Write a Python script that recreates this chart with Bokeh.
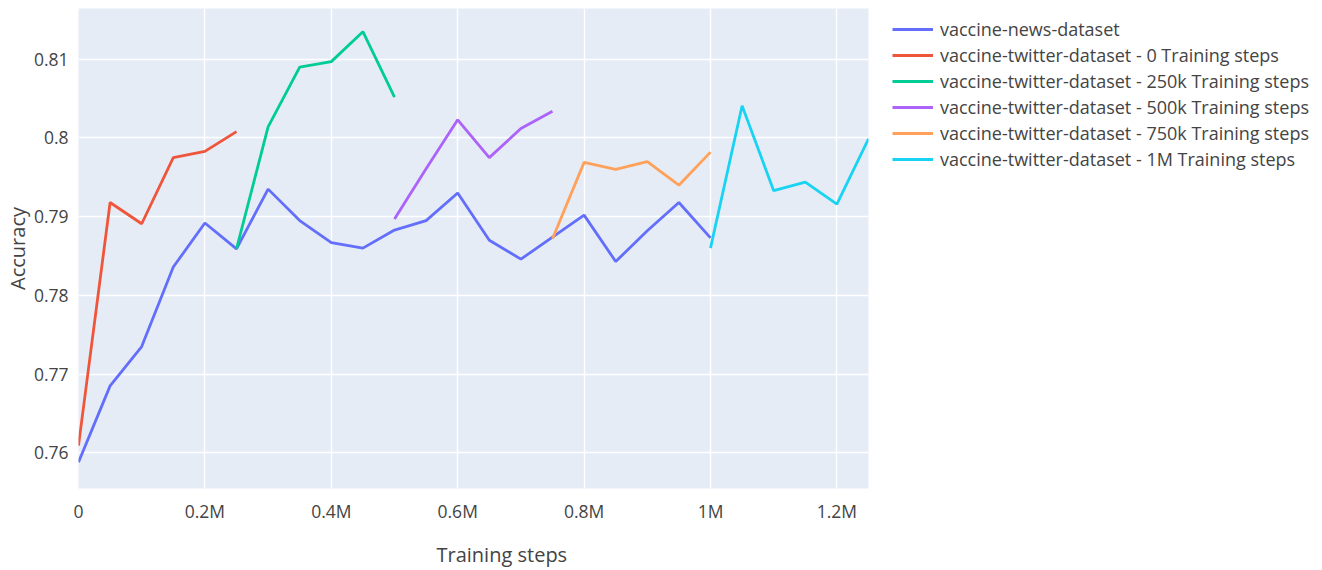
from bokeh.plotting import figure
from bokeh.models import Legend, LegendItem, FixedTicker, Range1d, Title
from bokeh.embed import file_html
from bokeh.resources import INLINE

# ---- data ----
news_steps = [0, 50000, 100000, 150000, 200000, 250000, 300000, 350000, 400000, 450000,
              500000, 550000, 600000, 650000, 700000, 750000, 800000, 850000, 900000, 950000, 1000000]
news_acc = [0.7588, 0.7685, 0.7735, 0.7836, 0.7892, 0.7859, 0.7935, 0.7895, 0.7867, 0.7860,
            0.7883, 0.7895, 0.7930, 0.7870, 0.7846, 0.7874, 0.7902, 0.7843, 0.7882, 0.7918, 0.7873]

tw0_steps = [0, 50000, 100000, 150000, 200000, 250000]
tw0_acc = [0.7609, 0.7918, 0.7891, 0.7975, 0.7983, 0.8008]

tw250_steps = [250000, 300000, 350000, 400000, 450000, 500000]
tw250_acc = [0.7859, 0.8014, 0.8090, 0.8097, 0.8135, 0.8052]

tw500_steps = [500000, 550000, 600000, 650000, 700000, 750000]
tw500_acc = [0.7897, 0.7961, 0.8023, 0.7975, 0.8012, 0.8034]

tw750_steps = [750000, 800000, 850000, 900000, 950000, 1000000]
tw750_acc = [0.7872, 0.7969, 0.7960, 0.7970, 0.7940, 0.7982]

tw1m_steps = [1000000, 1050000, 1100000, 1150000, 1200000, 1250000]
tw1m_acc = [0.7860, 0.8041, 0.7933, 0.7944, 0.7916, 0.7999]

series_names = ["vaccine-news-dataset",
                "vaccine-twitter-dataset - 0 Training steps",
                "vaccine-twitter-dataset - 250k Training steps",
                "vaccine-twitter-dataset - 500k Training steps",
                "vaccine-twitter-dataset - 750k Training steps",
                "vaccine-twitter-dataset - 1M Training steps"]
colors = ["#636efa", "#EF553B", "#00cc96", "#ab63fa", "#FFA15A", "#19d3f3"]

x_ticks = [0, 200000, 400000, 600000, 800000, 1000000, 1200000]
x_tick_labels = ["0", "0.2M", "0.4M", "0.6M", "0.8M", "1M", "1.2M"]
y_ticks = [0.76, 0.77, 0.78, 0.79, 0.80, 0.81]
y_tick_labels = ["0.76", "0.77", "0.78", "0.79", "0.8", "0.81"]

FONT = "Open Sans"
TXT = "#444444"

p = figure(frame_width=790, frame_height=480, output_backend="svg", toolbar_location=None,
           x_range=Range1d(0, 1250000), y_range=Range1d(0.75546, 0.81645),
           min_border_left=78, min_border_right=0, min_border_top=8, min_border_bottom=0)
p.background_fill_color = "#E5ECF6"
p.border_fill_color = "white"
p.outline_line_color = None

series = [(news_steps, news_acc), (tw0_steps, tw0_acc), (tw250_steps, tw250_acc),
          (tw500_steps, tw500_acc), (tw750_steps, tw750_acc), (tw1m_steps, tw1m_acc)]
items = []
for (xs, ys), name, c in zip(series, series_names, colors):
    r = p.line(xs, ys, line_color=c, line_width=2.8)
    items.append(LegendItem(label=name, renderers=[r]))

for ax in (p.xaxis, p.yaxis):
    ax.axis_line_color = None
    ax.major_tick_line_color = None
    ax.minor_tick_line_color = None
    ax.major_label_text_font = FONT
    ax.major_label_text_font_size = "17.5px"
    ax.major_label_text_color = TXT

p.xaxis.ticker = FixedTicker(ticks=x_ticks)
p.xaxis.major_label_overrides = {t: l for t, l in zip(x_ticks, x_tick_labels)}
p.xaxis.major_label_standoff = 4
p.yaxis.ticker = FixedTicker(ticks=y_ticks)
p.yaxis.major_label_overrides = {t: l for t, l in zip(y_ticks, y_tick_labels)}
p.yaxis.major_label_standoff = 4

p.yaxis.axis_label = "Accuracy"
p.yaxis.axis_label_text_font = FONT
p.yaxis.axis_label_text_font_size = "20px"
p.yaxis.axis_label_text_font_style = "normal"
p.yaxis.axis_label_text_color = TXT
p.yaxis.axis_label_standoff = 0

p.xgrid.grid_line_color = "white"
p.ygrid.grid_line_color = "white"
p.xgrid.grid_line_width = 1.5
p.ygrid.grid_line_width = 1.5

xtitle = Title(text="Training steps", align="left", offset=358, standoff=27,
               text_font=FONT, text_font_size="20px", text_font_style="normal",
               text_color=TXT)
p.add_layout(xtitle, "below")

legend = Legend(items=items, location=(24, 316), orientation="vertical",
                label_text_font=FONT, label_text_font_size="18px", label_text_color=TXT,
                glyph_width=41, glyph_height=26, label_height=26, spacing=0,
                label_standoff=7, padding=0, margin=0,
                border_line_color=None, background_fill_alpha=0)
p.add_layout(legend, "right")

open("out.html", "w").write(file_html(p, INLINE))
